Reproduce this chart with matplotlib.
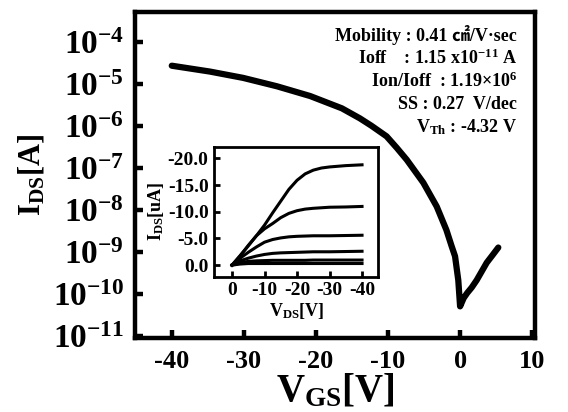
import math
import matplotlib
matplotlib.use("Agg")
import matplotlib.pyplot as plt

plt.rcParams["font.family"] = ["Liberation Serif", "Noto Sans CJK JP", "DejaVu Sans"]
plt.rcParams["font.weight"] = "bold"
plt.rcParams["axes.labelweight"] = "bold"
plt.rcParams["mathtext.fontset"] = "custom"
plt.rcParams["mathtext.rm"] = "Liberation Serif:bold"
plt.rcParams["mathtext.bf"] = "Liberation Serif:bold"
plt.rcParams["mathtext.it"] = "Liberation Serif:bold"
plt.rcParams["mathtext.default"] = "bf"

# transfer curve
vgs = [-40, -34.7, -30.1, -25.4, -20.8, -16.4, -13.9, -12.3, -10.2, -8.8,
       -7.4, -5.1, -3.25, -1.9, -1.2, -0.7, -0.25, 0.0,
       0.5, 1.0, 1.6, 2.3, 3.0, 3.7, 4.5, 5.3]
ids = [2.69e-5, 1.95e-5, 1.38e-5, 8.7e-6, 5.1e-6, 2.6e-6, 1.5e-6, 1.0e-6,
       5.6e-7, 3.0e-7, 1.55e-7, 4.4e-8, 1.2e-8, 3.3e-9, 1.4e-9, 7.8e-10,
       2.1e-10, 5.0e-11,
       7.9e-11, 1.05e-10, 1.4e-10, 2.1e-10, 3.4e-10, 5.5e-10, 8.3e-10, 1.26e-9]

# output curves (inset), uA
vds = [0, -2.5, -5, -7.5, -10, -12.5, -15, -17.5, -20, -22.5, -25, -27.5, -30, -35, -40]
out_curves = [
    [0, -1.8, -3.6, -5.5, -7.5, -9.8, -12.0, -14.2, -15.9, -17.1, -17.8, -18.2, -18.4, -18.65, -18.8],
    [0, -1.7, -3.7, -5.5, -6.8, -7.8, -8.9, -9.7, -10.2, -10.5, -10.65, -10.75, -10.85, -10.9, -11.0],
    [0, -1.3, -2.4, -3.4, -4.3, -4.8, -5.1, -5.3, -5.4, -5.45, -5.5, -5.5, -5.5, -5.55, -5.6],
    [0, -0.8, -1.3, -1.7, -2.0, -2.2, -2.3, -2.35, -2.4, -2.45, -2.5, -2.5, -2.5, -2.55, -2.6],
    [0, -0.45, -0.7, -0.8, -0.85, -0.9, -0.9, -0.9, -0.9, -0.9, -0.95, -0.95, -0.95, -0.95, -0.95],
    [0, -0.2, -0.3, -0.3, -0.3, -0.3, -0.3, -0.3, -0.3, -0.3, -0.3, -0.3, -0.3, -0.3, -0.3],
]

xticks = [-40, -30, -20, -10, 0, 10]
yticks = [1e-11, 1e-10, 1e-9, 1e-8, 1e-7, 1e-6, 1e-5, 1e-4]
in_xticks = [0, -10, -20, -30, -40]
in_yticks = [0, -5, -10, -15, -20]

notes = [
    "Mobility : 0.41 \u33a0/V\u00b7sec",
    "Ioff    : 1.15 x10$^{-11}$ A",
    "Ion/Ioff  : 1.19\u00d710$^{6}$",
    "SS : 0.27  V/dec",
    "V$_{Th}$ : -4.32 V",
]

fig = plt.figure(figsize=(5.68, 4.12), dpi=100)
ax = fig.add_axes([0.2377, 0.180, 0.7043, 0.791])
ax.plot(vgs, ids, color="black", lw=4.5, solid_capstyle="round", solid_joinstyle="round")
ax.set_yscale("log")
ax.set_xlim(-45.1, 10.4)
ax.set_ylim(10 ** -11.05, 10 ** -3.29)
ax.set_xticks(xticks)
ax.set_xticklabels([str(t) for t in xticks])
ax.set_yticks(yticks)
ax.set_yticklabels(["$10^{%d}$" % round(math.log10(t)) for t in yticks])
ax.minorticks_off()
ax.tick_params(direction="in", length=6, width=3.2, labelsize=19, pad=9)
ax.tick_params(axis="y", labelsize=24, pad=8)
for s in ax.spines.values():
    s.set_linewidth(3.2)
ax.set_xlabel("V$_{GS}$[V]", fontsize=28, labelpad=0)
ax.set_ylabel("I$_{DS}$[A]", fontsize=22, labelpad=4)

for i, t in enumerate(notes):
    ax.text(0.955, 0.929 - i * 0.0706, t, transform=ax.transAxes, ha="right",
            va="center", fontsize=13, fontweight="bold")

ins = fig.add_axes([0.377, 0.328, 0.289, 0.316])
for c in out_curves:
    ins.plot(vds, c, color="black", lw=2.2)
ins.set_xlim(5.5, -45)
ins.set_ylim(2.2, -22.2)
ins.set_xticks(in_xticks)
ins.set_xticklabels([str(t) for t in in_xticks])
ins.set_yticks(in_yticks)
ins.set_yticklabels(["%.1f" % t for t in in_yticks])
ins.tick_params(direction="in", length=4, width=2, labelsize=14, pad=4)
for s in ins.spines.values():
    s.set_linewidth(2)
ins.set_xlabel("V$_{DS}$[V]", fontsize=13, labelpad=1)
ins.set_ylabel("I$_{DS}$[uA]", fontsize=13, labelpad=1)

fig.savefig("out.png", dpi=100)
